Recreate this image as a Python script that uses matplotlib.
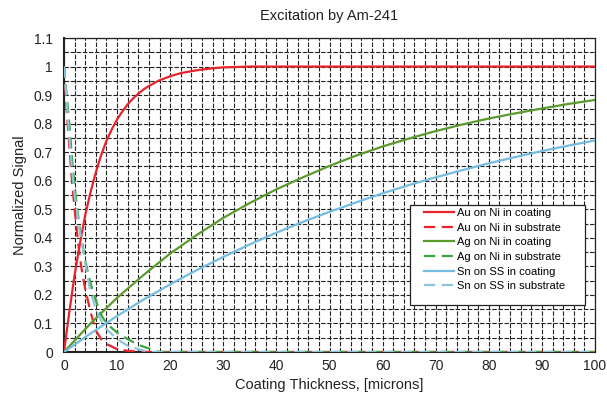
import matplotlib
matplotlib.use("Agg")
import matplotlib.pyplot as plt
from matplotlib.ticker import MultipleLocator
from matplotlib.patches import Rectangle

plt.rcParams['font.family'] = ['Liberation Sans', 'DejaVu Sans']

# --- data ---
au_coat_x = [0, 1, 2, 3, 4, 5, 6, 7, 8, 9, 10, 11, 12, 13, 14, 15, 16, 18, 20, 22, 25, 28, 30, 35, 100]
au_coat_y = [0, 0.14, 0.27, 0.38, 0.48, 0.56, 0.63, 0.69, 0.74, 0.78, 0.815, 0.843, 0.868, 0.888, 0.905, 0.92, 0.932, 0.952, 0.966, 0.977, 0.987, 0.994, 0.997, 1.0, 1.0]

au_sub_x = [0, 0.5, 1, 1.5, 2, 2.5, 3, 3.5, 4, 5, 6, 7, 8, 10, 12, 15, 100]
au_sub_y = [1.0, 0.85, 0.72, 0.60, 0.50, 0.41, 0.33, 0.27, 0.22, 0.14, 0.075, 0.045, 0.028, 0.01, 0.004, 0.0, 0.0]

ag_coat_x = [0, 5, 10, 15, 20, 25, 30, 35, 40, 45, 50, 55, 60, 65, 70, 75, 80, 85, 90, 95, 100]
ag_coat_y = [0, 0.10, 0.19, 0.27, 0.345, 0.41, 0.47, 0.522, 0.57, 0.612, 0.652, 0.688, 0.72, 0.748, 0.774, 0.797, 0.818, 0.836, 0.853, 0.869, 0.883]

ag_sub_x = [0, 0.5, 1, 1.5, 2, 2.5, 3, 4, 5, 6, 7, 8, 10, 12, 14, 16, 18, 100]
ag_sub_y = [1.0, 0.90, 0.80, 0.68, 0.58, 0.50, 0.43, 0.32, 0.24, 0.18, 0.13, 0.10, 0.068, 0.045, 0.025, 0.012, 0.0, 0.0]

sn_coat_x = [0, 5, 10, 15, 20, 25, 30, 35, 40, 45, 50, 55, 60, 65, 70, 75, 80, 85, 90, 95, 100]
sn_coat_y = [0, 0.065, 0.126, 0.184, 0.237, 0.287, 0.333, 0.377, 0.418, 0.456, 0.491, 0.524, 0.556, 0.585, 0.612, 0.637, 0.661, 0.683, 0.704, 0.723, 0.741]

sn_sub_x = [0, 0.5, 1, 1.5, 2, 3, 4, 5, 6, 7, 8, 10, 12, 14, 16, 100]
sn_sub_y = [1.0, 0.88, 0.75, 0.64, 0.55, 0.42, 0.31, 0.21, 0.15, 0.11, 0.08, 0.045, 0.022, 0.01, 0.0, 0.0]

labels = ["Au on Ni in coating", "Au on Ni in substrate",
          "Ag on Ni in coating", "Ag on Ni in substrate",
          "Sn on SS in coating", "Sn on SS in substrate"]

x_ticks = [0, 10, 20, 30, 40, 50, 60, 70, 80, 90, 100]
y_ticks = [0, 0.1, 0.2, 0.3, 0.4, 0.5, 0.6, 0.7, 0.8, 0.9, 1.0, 1.1]
y_tick_labels = ["0", "0.1", "0.2", "0.3", "0.4", "0.5", "0.6", "0.7", "0.8", "0.9", "1", "1.1"]

W, H = 607, 397
fig = plt.figure(figsize=(W / 100, H / 100), dpi=100)
L, R, T, B = 64, 595, 38, 352
ax = fig.add_axes([L / W, 1 - B / H, (R - L) / W, (B - T) / H])

red = "#e8232b"
green = "#5b9a2c"
green_d = "#3aa53a"
blue = "#74bde0"
blue_d = "#8cc4dc"
dash = (0, (5, 3))

ax.plot(au_coat_x, au_coat_y, color=red, lw=1.6, label=labels[0], zorder=5)
ax.plot(au_sub_x, au_sub_y, color=red, lw=1.6, ls=dash, label=labels[1], zorder=5)
ax.plot(ag_coat_x, ag_coat_y, color=green, lw=1.6, label=labels[2], zorder=5)
ax.plot(ag_sub_x, ag_sub_y, color=green_d, lw=1.6, ls=dash, label=labels[3], zorder=5)
ax.plot(sn_coat_x, sn_coat_y, color=blue, lw=1.6, label=labels[4], zorder=5)
ax.plot(sn_sub_x, sn_sub_y, color=blue_d, lw=1.6, ls=dash, label=labels[5], zorder=5)

ax.set_xlim(0, 100)
ax.set_ylim(0, 1.1)
ax.set_xticks(x_ticks)
ax.set_yticks(y_ticks)
ax.set_yticklabels(y_tick_labels)
ax.xaxis.set_minor_locator(MultipleLocator(2))
ax.yaxis.set_minor_locator(MultipleLocator(0.05))
ax.grid(True, which='both', color='#222222', lw=0.8, ls=(0, (4, 1.5)))
ax.set_axisbelow(True)
ax.tick_params(which='both', length=0, labelsize=10, colors='#222222')
ax.tick_params(axis='y', pad=8)
ax.tick_params(axis='x', pad=5)
for s in ax.spines.values():
    s.set_color('#222222')
    s.set_linewidth(0.9)
ax.spines['left'].set_linewidth(1.5)
ax.spines['bottom'].set_linewidth(1.5)

ax.set_title("Excitation by Am-241", fontsize=10.5, pad=13, color='#222222')
ax.set_xlabel("Coating Thickness, [microns]", fontsize=10.5, labelpad=4, color='#222222')
ax.set_ylabel("Normalized Signal", fontsize=10.5, labelpad=5, color='#222222')

# legend box (drawn as a frame) and legend entries
lx0, lx1, ly0, ly1 = 410, 585, 205, 305
box = Rectangle(((lx0 - L) / (R - L), (B - ly1) / (B - T)),
                (lx1 - lx0) / (R - L), (ly1 - ly0) / (B - T),
                transform=ax.transAxes, facecolor='white', edgecolor='#222222',
                lw=0.9, zorder=9)
ax.add_patch(box)
leg = ax.legend(loc='upper left', bbox_to_anchor=((424 - L) / (R - L), (B - 208) / (B - T)),
                fontsize=8, frameon=False, handlelength=2.7, handletextpad=0.3,
                borderpad=0, labelspacing=0.42, borderaxespad=0)
leg.set_zorder(10)

fig.savefig("out.png", dpi=100)
